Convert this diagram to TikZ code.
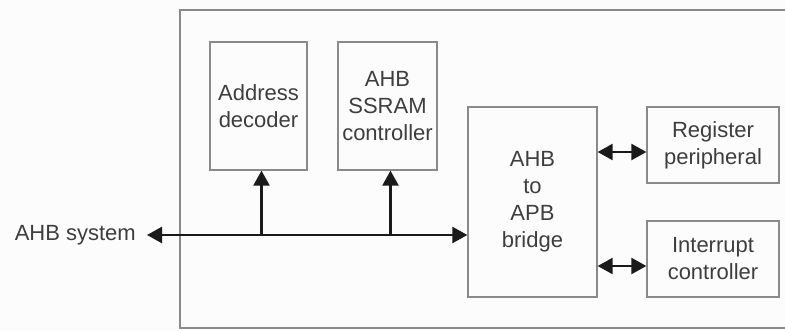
\documentclass[tikz,border=0pt]{standalone}
\usepackage{fontspec}
\setmainfont{Liberation Sans}
\usetikzlibrary{arrows.meta,calc}
\definecolor{boxline}{HTML}{8A8A8A}
\definecolor{labeltext}{HTML}{3E3E3E}
\definecolor{busline}{HTML}{1A1A1A}
\tikzset{
  block/.style={draw=boxline, line width=1.3pt, rectangle, inner sep=0pt,
    align=center, text=labeltext, font=\fontsize{22}{27}\selectfont},
  link/.style={draw=busline, line width=2.4pt,
    arrows={-Triangle[length=15pt,width=16pt]}},
  duplex/.style={draw=busline, line width=2.4pt,
    arrows={Triangle[length=15pt,width=16pt]-Triangle[length=15pt,width=16pt]}},
  caption/.style={text=labeltext, font=\fontsize{22}{27}\selectfont}
}
\begin{document}
\begin{tikzpicture}[x=1pt,y=-1pt]
  \useasboundingbox (0,0) rectangle (785,330);
  \fill[white!99!black] (0,0) rectangle (785,330);
  % enclosing subsystem frame (right side runs off the page)
  \draw[boxline, line width=1.3pt] (800,10) -- (180,10) -- (180,328) -- (800,328);

  \node[block, minimum width=97pt, minimum height=128pt] (dec) at (258.5,106) {Address\\decoder};
  \node[block, minimum width=99pt, minimum height=128pt] (ssram) at (387.5,106) {AHB\\SSRAM\\controller};
  \node[block, minimum width=129pt, minimum height=190pt] (bridge) at (532.5,202) {AHB\\to\\APB\\bridge};
  \node[block, minimum width=132pt, minimum height=76pt] (reg) at (713,145) {Register\\peripheral};
  \node[block, minimum width=132pt, minimum height=76pt] (irq) at (713,259) {Interrupt\\controller};

  \node[caption, anchor=east, inner xsep=11pt, inner ysep=0pt] (sys) at (147,235) {AHB system};

  % AHB bus
  \draw[duplex] (sys.east) -- (bridge.west |- sys.east);
  \draw[link] ($(dec.south |- sys.east)+(3,0)$) -- ($(dec.south)+(3,0)$);
  \draw[link] ($(ssram.south |- sys.east)+(3,0)$) -- ($(ssram.south)+(3,0)$);

  % APB side
  \draw[duplex] ($(bridge.east |- reg.west)+(0,7)$) -- ($(reg.west)+(0,7)$);
  \draw[duplex] ($(bridge.east |- irq.west)+(0,7)$) -- ($(irq.west)+(0,7)$);
\end{tikzpicture}
\end{document}
